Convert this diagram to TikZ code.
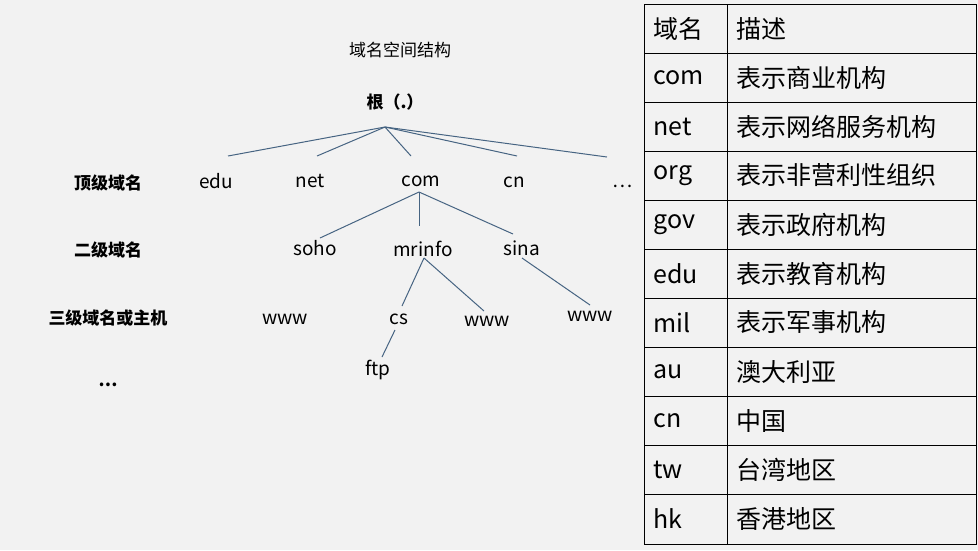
\documentclass[tikz,border=0pt]{standalone}
\usepackage{fontspec}
\setmainfont{Noto Sans CJK SC}

\definecolor{edgeblue}{RGB}{70,100,130}
\tikzset{
  lbl/.style={font=\fontsize{19}{19}\selectfont},
  lvl/.style={font=\fontsize{17}{17}\selectfont\bfseries},
  cell/.style={anchor=west,font=\fontsize{25}{25}\selectfont},
  edge/.style={draw=edgeblue,line width=1pt}
}

\begin{document}
\begin{tikzpicture}[x=1pt,y=-1pt]
      \fill[black!5] (0,0) rectangle (978,550);
      \node[lbl,font=\fontsize{17}{17}\selectfont] (title) at (400,50) {域名空间结构};
      \node[lvl] (root) at (395,102) {根（.）};
      % levels
      \node[lvl] (l1) at (108,183) {顶级域名};
      \node[lvl] (l2) at (108,250) {二级域名};
      \node[lvl] (l3) at (108,318) {三级域名或主机};
      \node[lvl] (l4) at (108,385) {\dots};
      % tree labels
      \node[lbl] (edu) at (216,181) {edu};
      \node[lbl] (net) at (310,181) {net};
      \node[lbl] (com) at (421,181) {com};
      \node[lbl] (cn) at (514,182) {cn};
      \node[lbl] (more) at (623,186) {\dots};
      \node[lbl] (soho) at (315,248) {soho};
      \node[lbl] (mrinfo) at (423,249) {mrinfo};
      \node[lbl] (sina) at (522,248) {sina};
      \node[lbl] (www1) at (285,319) {www};
      \node[lbl] (cs) at (399,319) {cs};
      \node[lbl] (www2) at (487,321) {www};
      \node[lbl] (www3) at (590,316) {www};
      \node[lbl] (ftp) at (378,370) {ftp};
      % connectors
      \coordinate (r) at (385,127);
      \coordinate (c) at (419,192);
      \coordinate (m) at (424,258);
      \coordinate (s) at (522,258);
      \coordinate (k) at (395,330);
      \foreach \x/\y in {228/156,317/156,411/156,517/156,607/157}
        \draw[edge] (r) -- (\x,\y);
      \foreach \x/\y in {320/238,419/226,513/234}
        \draw[edge] (c) -- (\x,\y);
      \draw[edge] (m) -- (402,306);
      \draw[edge] (m) -- (484,311);
      \draw[edge] (s) -- (590,305);
      \draw[edge] (k) -- (382,357);
      % table
      \draw[line width=1pt] (644,4) rectangle (976,544);
      \draw[line width=1pt] (727,4) -- (727,544);
      \foreach \i in {1,...,10}
        \draw[line width=1pt] (644,4+49*\i) -- (976,4+49*\i);
      \foreach \a/\b [count=\i from 0] in {域名/描述,com/表示商业机构,net/表示网络服务机构,org/表示非营利性组织,gov/表示政府机构,edu/表示教育机构,mil/表示军事机构,au/澳大利亚,cn/中国,tw/台湾地区,hk/香港地区}{
        \node[cell] (k\i) at (650,28.5+49*\i) {\a};
        \node[cell] (d\i) at (733,28.5+49*\i) {\b};
      }
    \end{tikzpicture}
\end{document}
